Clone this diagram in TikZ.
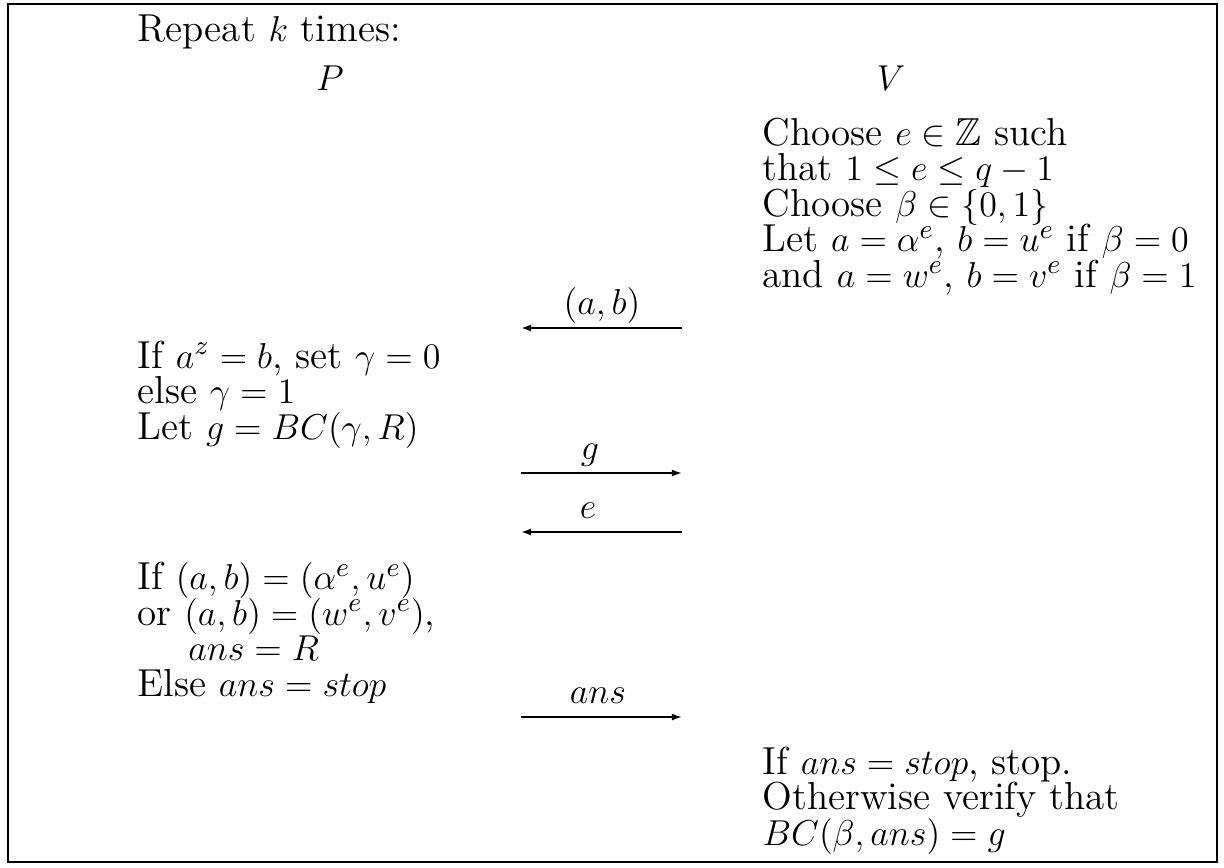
\documentclass[tikz,border=0pt]{standalone}
\usepackage{amssymb}
\usetikzlibrary{arrows.meta}
\lineskiplimit=-100pt
\begin{document}
\begin{tikzpicture}[
    x=0.3333pt, y=-0.3333pt,
    txt/.style={anchor=base west, align=left, inner sep=0pt, font=\fontsize{13pt}{11.83pt}\selectfont},
    head/.style={anchor=base, inner sep=0pt, font=\fontsize{13pt}{11.83pt}\selectfont},
    lab/.style={anchor=base, inner sep=0pt, font=\fontsize{13pt}{11.83pt}\selectfont},
    msg/.style={line width=0.6pt, -{Latex[length=3.4pt,width=2.4pt]}}
]
\useasboundingbox (0,0) rectangle (1224,867);
\draw[line width=0.7pt] (8,4) rectangle (1217,862);

\node[txt] (rep) at (137,42) {Repeat $k$ times:};
\node[head] (P) at (330,90) {$P$};
\node[head] (V) at (891,90) {$V$};

% blocks are placed by the baseline of their last line
\node[txt] (v1) at (762,287) {Choose $e \in \mathbb{Z}$ such\\
    that $1 \le e \le q-1$\\
    Choose $\beta \in \{0,1\}$\\
    Let $a=\alpha^e$, $b=u^e$ if $\beta=0$\\
    and $a=w^e$, $b=v^e$ if $\beta=1$};

\node[txt] (p1) at (137,439) {If $a^z=b$, set $\gamma=0$\\
    else $\gamma=1$\\
    Let $g=BC(\gamma,R)$};

\node[txt] (p2) at (137,696) {If $(a,b)=(\alpha^e,u^e)$\\
    or $(a,b)=(w^e,v^e)$,\\
    \hspace*{1.3em}$ans=R$\\
    Else $ans=stop$};

\node[txt] (v2) at (762,845) {If $ans=stop$, stop.\\
    Otherwise verify that\\
    $BC(\beta,ans)=g$};

% messages
\coordinate (m1l) at (521,328);
\coordinate (m1r) at (682,328);
\coordinate (m2l) at (521,473);
\coordinate (m2r) at (682,473);
\coordinate (m3l) at (521,532);
\coordinate (m3r) at (682,532);
\coordinate (m4l) at (521,717);
\coordinate (m4r) at (682,717);

\draw[msg] (m1r) -- (m1l);
\draw[msg] (m2l) -- (m2r);
\draw[msg] (m3r) -- (m3l);
\draw[msg] (m4l) -- (m4r);

\node[lab] (l1) at (602,314) {$(a,b)$};
\node[lab] (l2) at (590,459) {$g$};
\node[lab] (l3) at (588,518) {$e$};
\node[lab] (l4) at (598,703) {$ans$};

\end{tikzpicture}
\end{document}
